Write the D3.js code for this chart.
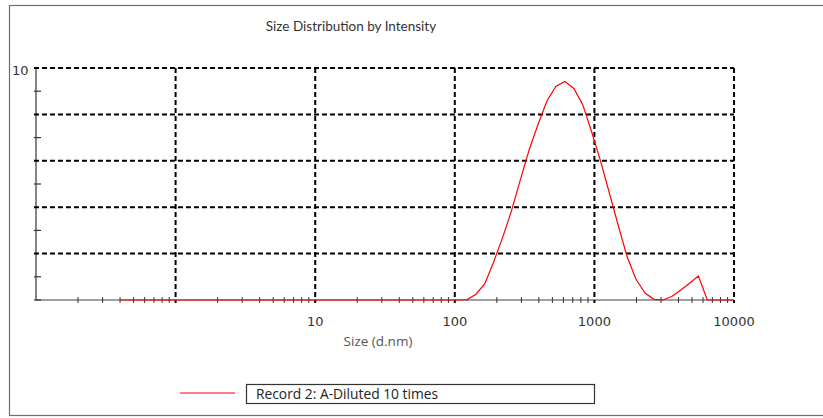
<!DOCTYPE html>
<html>
<head>
<meta charset="utf-8">
<script src="https://cdn.jsdelivr.net/npm/d3@7"></script>
<style>
  body { margin: 0; background: #fff; }
  svg { display: block; }
</style>
</head>
<body>
<div id="chart"></div>
<script>
// size classes (d.nm) and intensity (%)
var sizes = [0.4, 0.4632, 0.5365, 0.6213, 0.7195, 0.8332, 0.9649, 1.117, 1.294, 1.499,
  1.736, 2.01, 2.328, 2.696, 3.122, 3.615, 4.187, 4.849, 5.615, 6.503,
  7.531, 8.721, 10.1, 11.7, 13.54, 15.69, 18.17, 21.04, 24.36, 28.21,
  32.67, 37.84, 43.82, 50.75, 58.77, 68.06, 78.82, 91.28, 105.7, 122.4,
  141.8, 164.2, 190.1, 220.2, 255.0, 295.3, 342.0, 396.1, 458.7, 531.2,
  615.1, 712.4, 825.0, 955.4, 1106, 1281, 1484, 1718, 1990, 2305,
  2669, 3091, 3580, 4145, 4801, 5560, 6439, 7456, 8635, 10000];
var intensity = [0, 0, 0, 0, 0, 0, 0, 0, 0, 0,
  0, 0, 0, 0, 0, 0, 0, 0, 0, 0,
  0, 0, 0, 0, 0, 0, 0, 0, 0, 0,
  0, 0, 0, 0, 0, 0, 0, 0, 0, 0.02,
  0.25, 0.7, 1.65, 2.7, 3.85, 5.2, 6.5, 7.6, 8.6, 9.22,
  9.42, 9.12, 8.42, 7.25, 6.0, 4.6, 3.2, 1.85, 0.88, 0.3,
  0.03, 0, 0.15, 0.42, 0.72, 1.03, 0, 0, 0, 0];
var xLabels = [10, 100, 1000, 10000];
var gridX = [1, 10, 100, 1000, 10000];
var gridY = [2, 4, 6, 8, 10];
var minorY = [0, 1, 3, 5, 7, 9];
var title = "Size Distribution by Intensity";
var xTitle = "Size (d.nm)";
var legendLabel = "Record 2: A-Diluted 10 times";

var width = 823, height = 418;

var svg = d3.select("#chart").append("svg")
  .attr("width", width)
  .attr("height", height);

// outer frame
svg.append("rect")
  .attr("x", 9.5).attr("y", 5.5)
  .attr("width", 840).attr("height", 410)
  .attr("fill", "none")
  .attr("stroke", "#6e6e6e")
  .attr("stroke-width", 1.2);

var x = d3.scaleLog().domain([0.1, 10000]).range([36, 734]);
var y = d3.scaleLinear().domain([0, 10]).range([300, 68]);

// title
svg.append("text")
  .attr("x", 351).attr("y", 31)
  .attr("text-anchor", "middle")
  .style("font-family", "Lato, 'Open Sans', sans-serif")
  .style("font-size", "13.5px")
  .style("fill", "#333")
  .text(title);

// x axis line
svg.append("line")
  .attr("x1", x(0.1)).attr("x2", x(10000))
  .attr("y1", y(0)).attr("y2", y(0))
  .attr("stroke", "#444").attr("stroke-width", 1.2);

// minor x ticks
var minorX = x.ticks().filter(function(d) {
  return Math.abs(Math.log10(d) - Math.round(Math.log10(d))) > 1e-6;
});
svg.selectAll(".xminor")
  .data(minorX)
  .enter().append("line")
  .attr("x1", function(d) { return x(d); })
  .attr("x2", function(d) { return x(d); })
  .attr("y1", y(0) - 3).attr("y2", y(0) + 3)
  .attr("stroke", "#333").attr("stroke-width", 1);

// y axis line
svg.append("line")
  .attr("x1", x(0.1)).attr("x2", x(0.1))
  .attr("y1", y(0)).attr("y2", y(10))
  .attr("stroke", "#333").attr("stroke-width", 1.2);

// minor y ticks
svg.selectAll(".yminor")
  .data(minorY)
  .enter().append("line")
  .attr("x1", x(0.1) - 2).attr("x2", x(0.1) + 5)
  .attr("y1", function(d) { return y(d); })
  .attr("y2", function(d) { return y(d); })
  .attr("stroke", "#333").attr("stroke-width", 1.2);

// dashed grid
svg.selectAll(".gy")
  .data(gridY)
  .enter().append("line")
  .attr("x1", x(0.1) - 2).attr("x2", x(10000))
  .attr("y1", function(d) { return y(d); })
  .attr("y2", function(d) { return y(d); })
  .attr("stroke", "#000").attr("stroke-width", 2)
  .attr("stroke-dasharray", "5,3");

svg.selectAll(".gx")
  .data(gridX)
  .enter().append("line")
  .attr("x1", function(d) { return x(d); })
  .attr("x2", function(d) { return x(d); })
  .attr("y1", y(10)).attr("y2", y(0) + 3)
  .attr("stroke", "#000").attr("stroke-width", 2)
  .attr("stroke-dasharray", "5,3");

// data line
var line = d3.line()
  .x(function(d, i) { return x(sizes[i]); })
  .y(function(d) { return y(d); });

svg.append("path")
  .datum(intensity)
  .attr("d", line)
  .attr("fill", "none")
  .attr("stroke", "#f00")
  .attr("stroke-width", 1.2);

// tick labels
svg.selectAll(".xl")
  .data(xLabels)
  .enter().append("text")
  .attr("x", function(d) { return x(d); })
  .attr("y", 326)
  .attr("text-anchor", "middle")
  .style("font-family", "'DejaVu Sans', sans-serif")
  .style("font-size", "13px")
  .style("fill", "#333")
  .text(function(d) { return d; });

svg.append("text")
  .attr("x", 12).attr("y", 75)
  .style("font-family", "'DejaVu Sans', sans-serif")
  .style("font-size", "13px")
  .style("fill", "#333")
  .text("10");

// x axis title
svg.append("text")
  .attr("x", 378).attr("y", 346)
  .attr("text-anchor", "middle")
  .style("font-family", "'Open Sans', sans-serif")
  .style("font-size", "13.5px")
  .style("fill", "#555")
  .text(xTitle);

// legend
svg.append("line")
  .attr("x1", 180).attr("x2", 235)
  .attr("y1", 393).attr("y2", 393)
  .attr("stroke", "#f00").attr("stroke-width", 1.2);

svg.append("rect")
  .attr("x", 246.5).attr("y", 384.5)
  .attr("width", 348).attr("height", 19)
  .attr("fill", "#fff")
  .attr("stroke", "#333").attr("stroke-width", 1.2);

svg.append("text")
  .attr("x", 256).attr("y", 399)
  .style("font-family", "'Open Sans', sans-serif")
  .style("font-size", "13.8px")
  .style("fill", "#222")
  .text(legendLabel);
</script>
</body>
</html>
